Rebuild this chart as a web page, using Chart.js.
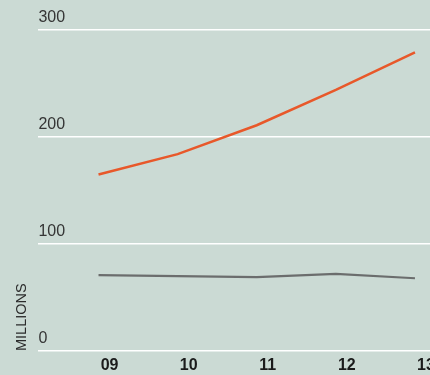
<!DOCTYPE html>
<html>
<head>
<meta charset="utf-8">
<script src="https://cdn.jsdelivr.net/npm/chart.js@4"></script>
<style>
  html, body { margin: 0; padding: 0; background: #cbdad4; }
  #wrap { width: 430px; height: 375px; position: relative; }
</style>
</head>
<body>
<div id="wrap"><canvas id="millionsChart"></canvas></div>
<script>
const years = ['09', '10', '11', '12', '13'];
const yTicks = [0, 100, 200, 300];
const upperSeries = [165, 184, 211, 244, 279];
const lowerSeries = [71, 70, 69, 72, 68];

// points sit inside the plot, not at its edges
const xMin = -0.76;
const xMax = 4.19;

const toPoints = arr => arr.map((v, i) => ({ x: i, y: v }));

const ctx = document.getElementById('millionsChart').getContext('2d');
new Chart(ctx, {
    type: 'line',
    data: {
        datasets: [
            {
                data: toPoints(upperSeries),
                borderColor: '#e8582a',
                borderWidth: 2.5,
                pointRadius: 0,
                tension: 0
            },
            {
                data: toPoints(lowerSeries),
                borderColor: '#6b6d6d',
                borderWidth: 2.2,
                pointRadius: 0,
                tension: 0
            }
        ]
    },
    options: {
        responsive: true,
        maintainAspectRatio: false,
        animation: false,
        layout: { padding: { top: 30, left: 0, right: 0, bottom: 0 } },
        plugins: {
            legend: { display: false },
            tooltip: { enabled: false }
        },
        scales: {
            x: {
                type: 'linear',
                min: xMin,
                max: xMax,
                afterBuildTicks: scale => {
                    scale.ticks = years.map((y, i) => ({ value: i }));
                },
                afterFit: scale => {
                    scale.height = 24;
                },
                grid: { display: false, drawTicks: false },
                border: { display: false },
                ticks: {
                    callback: (val) => years[val],
                    font: { family: 'Liberation Sans', size: 16, weight: 'bold' },
                    color: '#1b1b1b',
                    labelOffset: 11,
                    padding: 5,
                    maxRotation: 0,
                    autoSkip: false
                }
            },
            y: {
                min: 0,
                max: 300,
                afterBuildTicks: scale => {
                    scale.ticks = yTicks.map(v => ({ value: v }));
                },
                grid: { color: '#ffffff', lineWidth: 1.5, drawTicks: false },
                border: { display: false },
                ticks: {
                    mirror: true,
                    padding: 0,
                    labelOffset: -12,
                    font: { family: 'Liberation Sans', size: 16 },
                    color: '#353535'
                },
                title: {
                    display: true,
                    text: 'MILLIONS',
                    align: 'start',
                    font: { family: 'Liberation Sans', size: 14.5 },
                    color: '#2b2b2b',
                    padding: { top: 13, bottom: 8 }
                }
            }
        }
    }
});
</script>
</body>
</html>
